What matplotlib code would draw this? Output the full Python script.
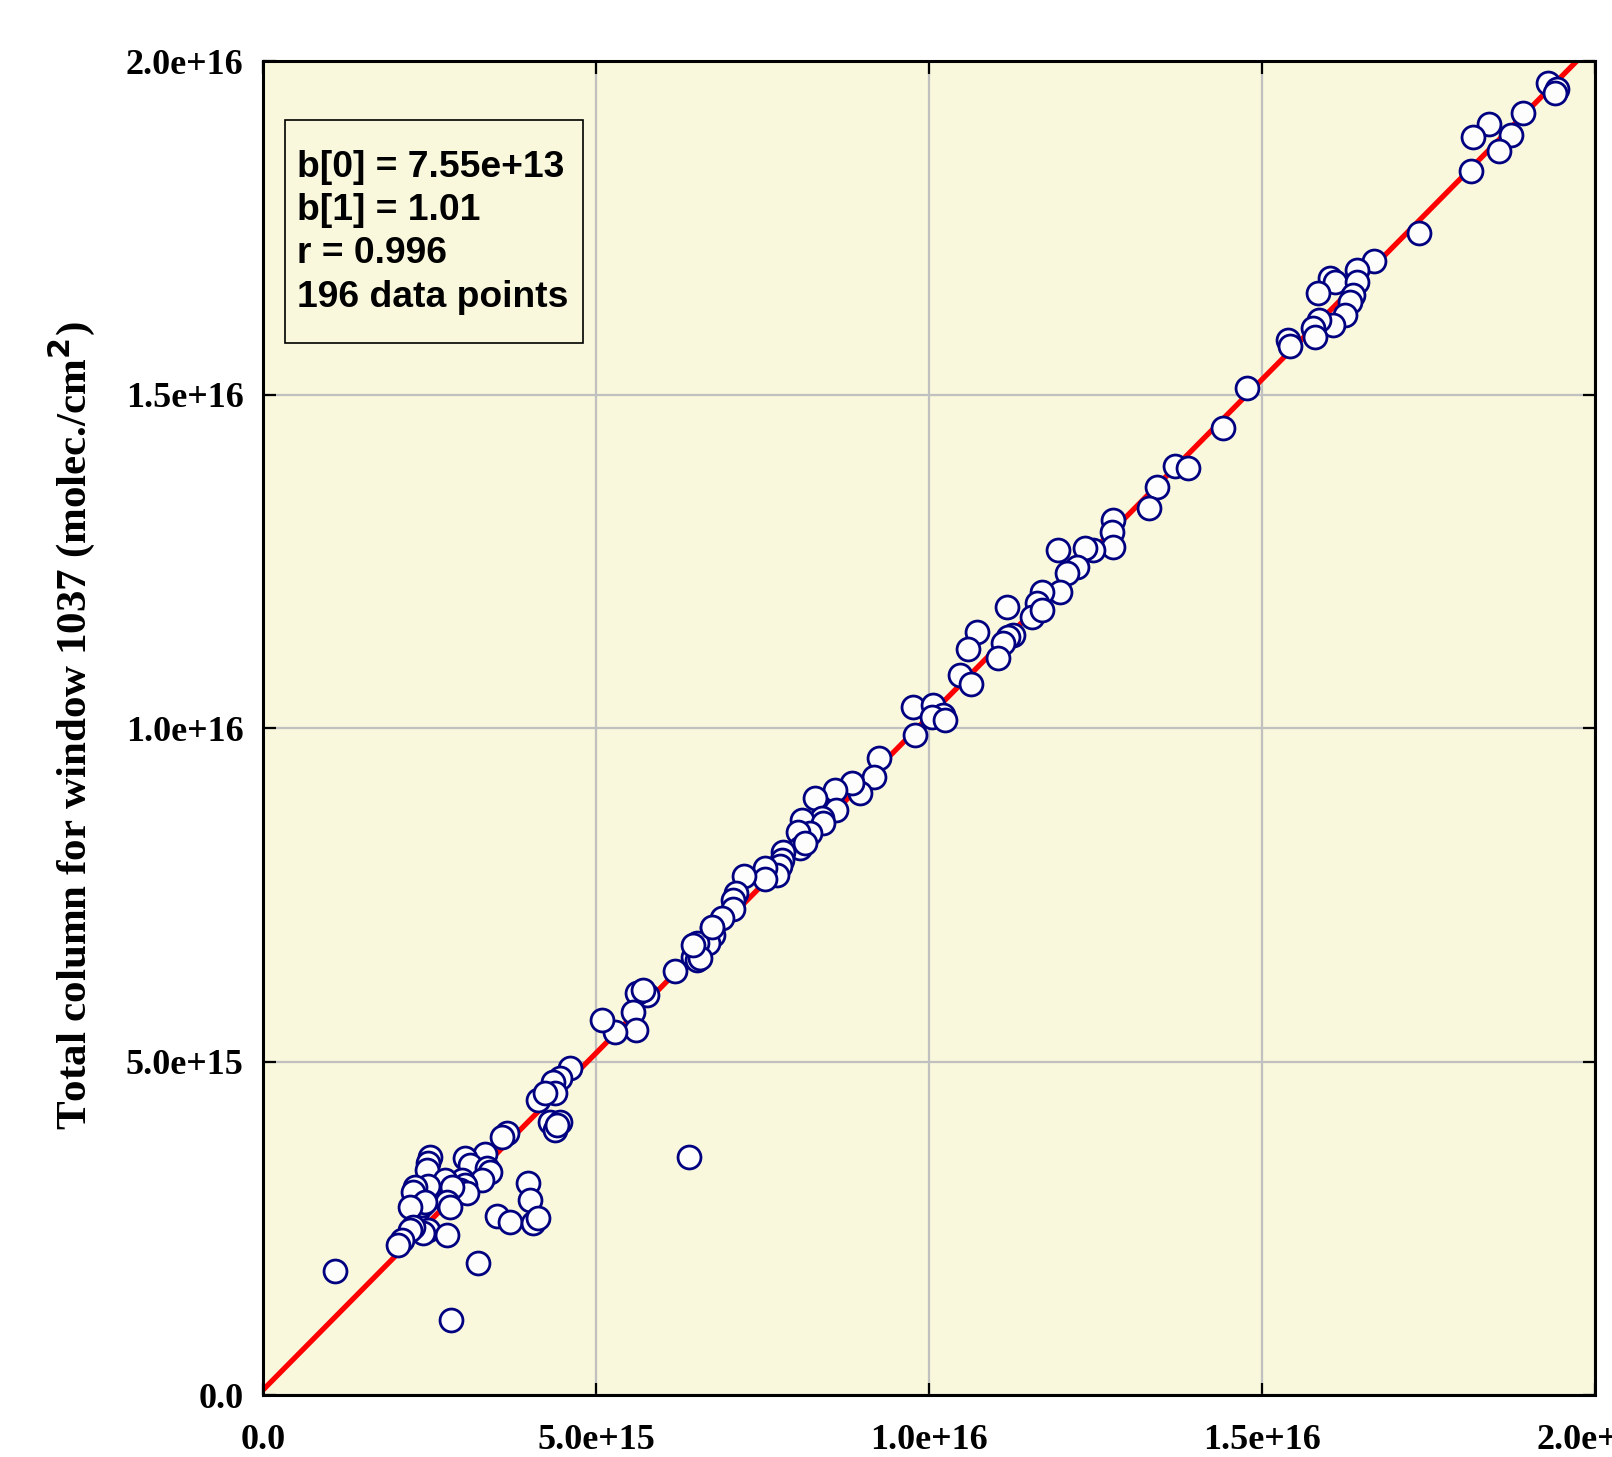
import numpy as np
import matplotlib
matplotlib.use('Agg')
import matplotlib.pyplot as plt
from matplotlib.patches import Rectangle

# values, in units of 1e15 molec/cm2
x_vals = [19.29, 19.43, 19.40, 18.92, 18.41, 18.17, 18.74, 18.56, 18.14, 17.36,
          16.68, 16.43, 16.02, 16.10, 16.43, 15.84, 16.37, 16.32, 16.25, 16.07,
          15.86, 15.77, 15.80, 15.39, 15.42, 14.77, 14.41, 13.69, 13.89, 13.42,
          13.30,
          12.76, 12.75, 12.76, 12.46, 12.34, 11.94, 12.22, 12.07, 11.97, 11.70,
          11.62, 11.55, 11.70, 11.17, 11.26, 11.19, 11.11, 11.04, 10.72, 10.59,
          10.47, 10.63, 9.76, 10.06, 10.21, 10.05, 9.79, 10.24,
          9.25, 9.17, 8.96, 8.84, 8.59, 8.29, 8.60, 8.39, 8.09, 8.41,
          8.21, 8.03, 8.06, 8.14, 7.81, 7.79, 7.76, 7.72, 7.54, 7.54,
          7.22, 7.10, 7.06, 7.06, 6.89, 6.74, 6.76, 6.68, 6.52, 6.46,
          6.52, 6.19, 6.74, 6.56, 6.46,
          5.77, 5.62, 5.71, 5.56, 5.60, 5.29, 5.09, 4.61, 4.46, 4.35,
          4.38, 4.13, 4.31, 4.46, 4.38, 4.23,
          4.41, 3.66, 3.59, 3.33, 3.03, 3.11, 3.36, 3.41, 2.51, 2.48,
          2.46, 3.29, 2.99, 3.03, 2.96, 3.06, 2.73, 2.84, 2.48, 2.28,
          2.25, 2.76, 2.81, 2.31, 2.39, 2.43, 2.21, 2.48, 2.40, 2.25,
          2.21, 2.09, 2.03, 2.76, 3.98, 4.01, 3.51, 3.71, 4.05, 4.13,
          3.23, 1.08, 2.82, 6.40]
y_vals = [19.67, 19.58, 19.52, 19.22, 19.06, 18.86, 18.89, 18.65, 18.35, 17.42,
          17.00, 16.87, 16.75, 16.69, 16.69, 16.52, 16.49, 16.39, 16.19, 16.04,
          16.12, 16.00, 15.86, 15.82, 15.73, 15.10, 14.50, 13.93, 13.90, 13.61,
          13.30,
          13.12, 12.94, 12.71, 12.67, 12.70, 12.67, 12.41, 12.32, 12.04, 12.04,
          11.87, 11.66, 11.77, 11.81, 11.39, 11.36, 11.27, 11.05, 11.44, 11.18,
          10.79, 10.66, 10.31, 10.34, 10.19, 10.16, 9.90, 10.12,
          9.55, 9.27, 9.03, 9.18, 9.07, 8.95, 8.77, 8.65, 8.62, 8.58,
          8.43, 8.44, 8.20, 8.28, 8.14, 8.02, 7.93, 7.80, 7.90, 7.74,
          7.78, 7.53, 7.42, 7.29, 7.15, 7.00, 6.90, 6.78, 6.78, 6.57,
          6.52, 6.36, 7.02, 6.55, 6.75,
          6.00, 6.03, 6.07, 5.74, 5.47, 5.44, 5.62, 4.90, 4.75, 4.69,
          4.53, 4.42, 4.09, 4.09, 3.97, 4.53,
          4.05, 3.93, 3.87, 3.61, 3.55, 3.45, 3.40, 3.34, 3.57, 3.48,
          3.37, 3.22, 3.22, 3.15, 3.07, 3.03, 3.22, 3.12, 3.13, 3.12,
          3.04, 2.89, 2.82, 2.74, 2.85, 2.89, 2.82, 2.47, 2.43, 2.52,
          2.47, 2.32, 2.25, 2.40, 3.18, 2.92, 2.68, 2.59, 2.58, 2.65,
          1.98, 1.86, 1.12, 3.57]

b0 = 7.55e13
b1 = 1.01
stats_lines = ['b[0] = 7.55e+13', 'b[1] = 1.01', 'r = 0.996', '196 data points']

ticks = [0.0, 5.0e15, 1.0e16, 1.5e16, 2.0e16]
tick_labels = ['0.0', '5.0e+15', '1.0e+16', '1.5e+16', '2.0e+16']
ylabel = 'Total column for window 1037 (molec./cm$\\mathbf{^2}$)'

x = np.array(x_vals) * 1e15
y = np.array(y_vals) * 1e15

bg = '#f9f8dc'
serif = 'Liberation Serif'

fig = plt.figure(figsize=(16.12, 14.57), dpi=100)
ax = fig.add_axes([0.16315, 0.04255, 0.8263, 0.91558])
ax.set_facecolor(bg)

ax.set_xlim(0, 2.0e16)
ax.set_ylim(0, 2.0e16)
ax.grid(True, color='#c0c0c0', linewidth=1.6, zorder=0)
ax.set_axisbelow(True)

# regression line
xl = np.array([0.0, 2.0e16])
ax.plot(xl, b0 + b1 * xl, color='red', linewidth=3.8, zorder=2)

ax.plot(x, y, linestyle='none', marker='o', markersize=16.5,
        markerfacecolor='#fdfdfd', markeredgecolor='#000080',
        markeredgewidth=2.0, zorder=3)

ax.set_xticks(ticks)
ax.set_yticks(ticks)
ax.set_xticklabels(tick_labels, fontfamily=serif, fontweight='bold', fontsize=26)
ax.set_yticklabels(tick_labels, fontfamily=serif, fontweight='bold', fontsize=26)
ax.tick_params(direction='in', length=9, width=1.6, top=True, right=True,
               color='black')
ax.tick_params(axis='x', pad=21)
ax.tick_params(axis='y', pad=14)
for sp in ax.spines.values():
    sp.set_linewidth(2.2)
    sp.set_zorder(4)

fig.text(0.0445, 0.502, ylabel, rotation=90, ha='center', va='center',
         fontfamily=serif, fontweight='bold', fontsize=31)

# stats box
ax.add_patch(Rectangle((0.0165, 0.7886), 0.2237, 0.1672, transform=ax.transAxes,
                       facecolor=bg, edgecolor='black', linewidth=1.2, zorder=5))
for i, line in enumerate(stats_lines):
    ax.text(0.0255, 0.9133 - i * 0.03246, line, transform=ax.transAxes,
            ha='left', va='baseline', fontfamily='Liberation Sans',
            fontweight='bold', fontsize=26.8, zorder=6)

fig.savefig('out.png', dpi=100)
